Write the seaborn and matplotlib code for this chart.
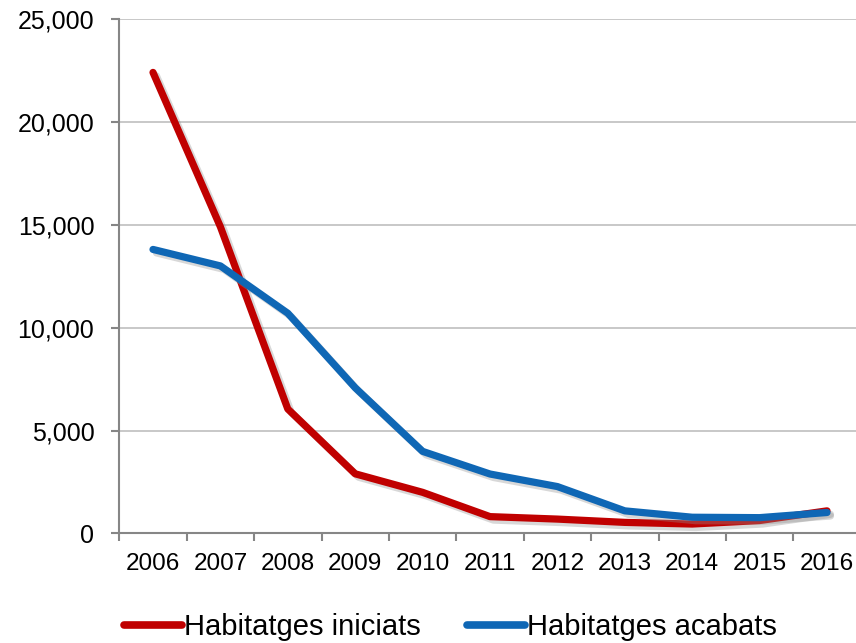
import pandas as pd
import matplotlib.pyplot as plt
import matplotlib.patheffects as pe
from matplotlib.ticker import FuncFormatter, MultipleLocator
import seaborn as sns

# Dades llegides del gràfic
anys = ["2006", "2007", "2008", "2009", "2010", "2011", "2012", "2013", "2014", "2015", "2016"]
iniciats = [22400, 14900, 6050, 2900, 2000, 820, 700, 540, 460, 630, 1100]
acabats = [13800, 13000, 10700, 7080, 3990, 2890, 2280, 1100, 790, 770, 1020]

noms = ["Habitatges iniciats", "Habitatges acabats"]
colors = ["#C00000", "#0F67B5"]

df = pd.DataFrame({
    "pos": list(range(len(anys))) * 2,
    "valor": iniciats + acabats,
    "serie": [noms[0]] * len(anys) + [noms[1]] * len(anys),
})

sns.set_theme(style="white")
plt.rcParams["font.family"] = ["Liberation Sans", "DejaVu Sans"]
plt.rcParams["text.color"] = "black"

fig = plt.figure(figsize=(8.56, 6.43), dpi=100)
ax = fig.add_axes([119.3 / 856, 0.1703, 741.4 / 856, 0.8003])

sns.lineplot(data=df, x="pos", y="valor", hue="serie", palette=colors,
             linewidth=5.2, ax=ax, legend=False, sort=False)

for line in ax.get_lines():
    line.set_solid_capstyle("round")
    line.set_solid_joinstyle("round")
    line.set_path_effects([
        pe.SimpleLineShadow(offset=(2.5, -2.5), shadow_color="#909090", alpha=0.35),
        pe.Normal(),
    ])

ax.set_xlim(-0.5, len(anys) - 0.5)
ax.set_ylim(0, 25000)
ax.set_xticks(range(len(anys)))
ax.set_xticklabels(anys)
ax.xaxis.set_minor_locator(MultipleLocator(1, offset=0.5))
ax.yaxis.set_major_locator(MultipleLocator(5000))
ax.yaxis.set_major_formatter(FuncFormatter(lambda v, p: f"{int(v):,}"))

ax.grid(axis="y", color="#BFBFBF", linewidth=1.2)
ax.set_axisbelow(True)
for s in ["top", "right"]:
    ax.spines[s].set_visible(False)
for s in ["left", "bottom"]:
    ax.spines[s].set_color("#868686")
    ax.spines[s].set_linewidth(1.5)

ax.tick_params(axis="x", which="major", length=0, pad=14, labelsize=17.5, labelcolor="black")
ax.tick_params(axis="x", which="minor", bottom=True, length=6, width=1.5, color="#868686")
ax.tick_params(axis="y", length=6, width=1.5, color="#868686", pad=12, labelsize=18,
               labelcolor="black", left=True)
ax.set_xlabel("")
ax.set_ylabel("")

handles = [plt.Line2D([], [], color=c, linewidth=5.5, solid_capstyle="round") for c in colors]
leg = fig.legend(handles, noms, loc="center", bbox_to_anchor=(0.526, 0.025), ncol=2,
                 frameon=False, fontsize=21, handlelength=2.0, handletextpad=0.05,
                 columnspacing=1.6)
for t in leg.get_texts():
    t.set_color("black")

fig.savefig("out.png", dpi=100)
